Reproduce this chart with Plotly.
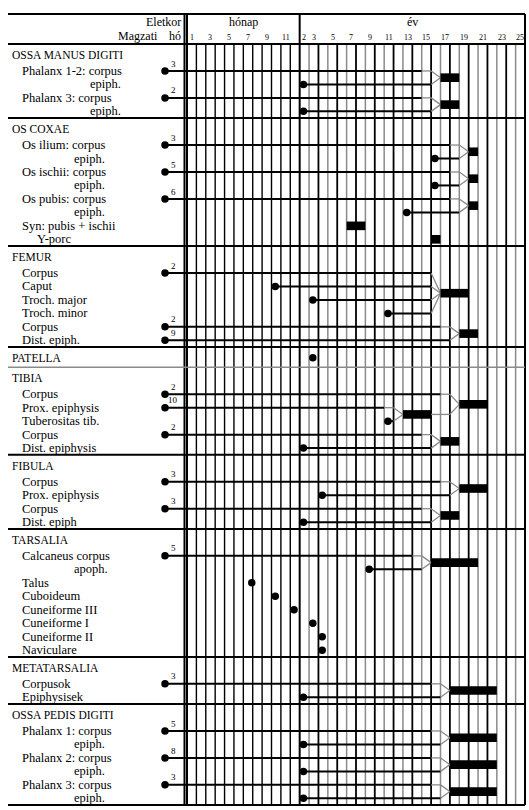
import plotly.graph_objects as go

# ---------------- data ----------------
SECTIONS = ["OSSA MANUS DIGITI", "OS COXAE", "FEMUR", "PATELLA", "TIBIA",
            "FIBULA", "TARSALIA", "METATARSALIA", "OSSA PEDIS DIGITI"]

ROW_LABELS = {
    "OSSA MANUS DIGITI": ["Phalanx 1-2: corpus", "epiph.", "Phalanx 3: corpus", "epiph."],
    "OS COXAE": ["Os ilium: corpus", "epiph.", "Os ischii: corpus", "epiph.",
                 "Os pubis: corpus", "epiph.", "Syn: pubis + ischii", "Y-porc"],
    "FEMUR": ["Corpus", "Caput", "Troch. major", "Troch. minor", "Corpus", "Dist. epiph."],
    "PATELLA": [],
    "TIBIA": ["Corpus", "Prox. epiphysis", "Tuberositas tib.", "Corpus", "Dist. epiphysis"],
    "FIBULA": ["Corpus", "Prox. epiphysis", "Corpus", "Dist. epiph"],
    "TARSALIA": ["Calcaneus corpus", "apoph.", "Talus", "Cuboideum", "Cuneiforme III",
                 "Cuneiforme I", "Cuneiforme II", "Naviculare"],
    "METATARSALIA": ["Corpusok", "Epiphysisek"],
    "OSSA PEDIS DIGITI": ["Phalanx 1: corpus", "epiph.", "Phalanx 2: corpus", "epiph.",
                          "Phalanx 3: corpus", "epiph."],
}

# onset of ossification: ("F", fetal month) / ("M", postnatal month) / ("Y", year) / None
ONSET = {
    "OSSA MANUS DIGITI": [("F", 3), ("Y", 2), ("F", 2), ("Y", 2)],
    "OS COXAE": [("F", 3), ("Y", 16), ("F", 5), ("Y", 16), ("F", 6), ("Y", 13), None, None],
    "FEMUR": [("F", 2), ("M", 10), ("Y", 3), ("Y", 11), ("F", 2), ("F", 9)],
    "PATELLA": [],
    "TIBIA": [("F", 2), ("F", 10), ("Y", 11), ("F", 2), ("Y", 2)],
    "FIBULA": [("F", 3), ("Y", 4), ("F", 3), ("Y", 2)],
    "TARSALIA": [("F", 5), ("Y", 9), ("M", 7.5), ("M", 10), ("M", 12), ("Y", 3), ("Y", 4), ("Y", 4)],
    "METATARSALIA": [("F", 3), ("Y", 2)],
    "OSSA PEDIS DIGITI": [("F", 5), ("Y", 2), ("F", 8), ("Y", 2), ("F", 3), ("Y", 2)],
}
PATELLA_ONSET = ("Y", 3)

# fusion periods in years (inclusive): id, section, members (row index or fusion id), first, last
FUSIONS = [
    ("md1", "OSSA MANUS DIGITI", [0, 1], 17, 18),
    ("md2", "OSSA MANUS DIGITI", [2, 3], 17, 18),
    ("cx1", "OS COXAE", [0, 1], 20, 20),
    ("cx2", "OS COXAE", [2, 3], 20, 20),
    ("cx3", "OS COXAE", [4, 5], 20, 20),
    ("cx4", "OS COXAE", [6], 7, 8),
    ("cx5", "OS COXAE", [7], 16, 16),
    ("fe1", "FEMUR", [0, 1, 2, 3], 17, 19),
    ("fe2", "FEMUR", [4, 5], 19, 20),
    ("tub", "TIBIA", [1, 2], 13, 15),
    ("ti1", "TIBIA", [0, "tub"], 19, 21),
    ("ti2", "TIBIA", [3, 4], 17, 18),
    ("fi1", "FIBULA", [0, 1], 19, 21),
    ("fi2", "FIBULA", [2, 3], 17, 18),
    ("ta1", "TARSALIA", [0, 1], 16, 20),
    ("mt1", "METATARSALIA", [0, 1], 18, 22),
    ("pd1", "OSSA PEDIS DIGITI", [0, 1], 18, 22),
    ("pd2", "OSSA PEDIS DIGITI", [2, 3], 18, 22),
    ("pd3", "OSSA PEDIS DIGITI", [4, 5], 18, 22),
]

MONTH_TICKS = [1, 3, 5, 7, 9, 11]
YEAR_TICKS = [2, 3, 5, 7, 9, 11, 13, 15, 17, 19, 21, 23, 25]
N_MONTHS = 12
FIRST_YEAR, LAST_YEAR = 2, 25

# ---------------- geometry (page pixels -> axis units) ----------------
W, H = 529, 810
GRID_X0_PX, GRID_X1_PX = 187, 525
N_COLS = N_MONTHS + (LAST_YEAR - FIRST_YEAR + 1)
CW = (GRID_X1_PX - GRID_X0_PX) / N_COLS
Y0_PX, U = 44, 13.47
HEAD = 1.5


def cx(px):
    return (px - GRID_X0_PX) / CW


def yv(px):
    return (px - Y0_PX) / U


FETAL_X = cx(165)
SERIF = "Liberation Serif, Times New Roman, serif"


def onset_x(o):
    kind, v = o
    if kind == "F":
        return FETAL_X
    if kind == "M":
        return v - 1 + 0.4
    return v - FIRST_YEAR + N_MONTHS + 0.4


def year_col(y):
    return y - FIRST_YEAR + N_MONTHS


# row positions
cursor = 0.0
sec_top, head_y, row_y = {}, {}, {}
for s in SECTIONS:
    sec_top[s] = cursor
    head_y[s] = cursor + 0.8
    for i, _ in enumerate(ROW_LABELS[s]):
        row_y[(s, i)] = cursor + HEAD + i + 0.5
    cursor += HEAD + len(ROW_LABELS[s])
bottom = cursor

shapes, annotations = [], []
BLACK, GRAY = "#000000", "#8a8a8a"


def line(x0, y0, x1, y1, color=BLACK, width=2):
    shapes.append(dict(type="line", xref="x", yref="y", x0=x0, y0=y0, x1=x1, y1=y1,
                       line=dict(color=color, width=width), layer="below"))


def text(x, y, t, size=12.5, anchor="left"):
    annotations.append(dict(x=x, y=y, xref="x", yref="y", text=t, showarrow=False,
                            xanchor=anchor, yanchor="middle",
                            font=dict(family=SERIF, size=size, color="black")))


# grid verticals
y_top = yv(14)
for c in range(N_COLS + 1):
    if c < N_MONTHS:
        col, wd = BLACK, 1.4
    else:
        col, wd = (BLACK, 1.8) if c % 2 == 0 else (GRAY, 1.5)
    ys = y_top if c in (0, N_MONTHS, N_COLS) else 0
    if c in (0, N_MONTHS, N_COLS):
        col, wd = BLACK, 2
    line(c, ys, c, bottom, col, wd)
line(cx(184.5), y_top, cx(184.5), bottom, BLACK, 2)

# horizontal rules
x_left = cx(8)
line(x_left, y_top, N_COLS, y_top)
line(x_left, 0, N_COLS, 0)
for s in SECTIONS[1:]:
    if s == "TIBIA":
        line(x_left, sec_top[s], N_COLS, sec_top[s], GRAY, 1.6)
    else:
        line(x_left, sec_top[s], N_COLS, sec_top[s])
line(x_left, bottom, N_COLS, bottom)

# header texts
text(cx(183), yv(22), "Eletkor", size=12, anchor="right")
text(cx(160), yv(36), "Magzati", size=12, anchor="right")
text(cx(183), yv(36), "hó", size=12, anchor="right")
text(N_MONTHS / 2, yv(22), "hónap", size=12, anchor="center")
text((N_MONTHS + N_COLS) / 2, yv(22), "év", size=12, anchor="center")
for m in MONTH_TICKS:
    text(m - 1 + 0.5, yv(37), str(m), size=8, anchor="center")
for y in YEAR_TICKS:
    text(year_col(y) + 0.5, yv(37), str(y), size=8, anchor="center")

# row labels
for s in SECTIONS:
    text(cx(10), head_y[s], s, size=11.5)
    for i, lab in enumerate(ROW_LABELS[s]):
        if lab in ("epiph.", "apoph."):
            px = 88 if s == "OSSA MANUS DIGITI" else 72
        elif lab == "Y-porc":
            px = 35
        else:
            px = 20
        text(cx(px), row_y[(s, i)], lab)

# dots
dot_x, dot_y = [], []
for s in SECTIONS:
    for i, o in enumerate(ONSET[s]):
        if o is None:
            continue
        dot_x.append(onset_x(o))
        dot_y.append(row_y[(s, i)])
        if o[0] == "F":
            text(cx(173), row_y[(s, i)] - 0.55, str(o[1]), size=9, anchor="center")
dot_x.append(onset_x(PATELLA_ONSET))
dot_y.append(head_y["PATELLA"])

# fusion bars and converging lines
bar_info = {}
for fid, s, members, y1, y2 in FUSIONS:
    S, E = year_col(y1), year_col(y2) + 1
    ys = [row_y[(s, m)] if isinstance(m, int) else bar_info[m][2] for m in members]
    ymid = (min(ys) + max(ys)) / 2
    bar_info[fid] = (S, E, ymid)
    if len(members) > 1:
        top = min(ys)
        for m, y in zip(members, ys):
            if isinstance(m, int):
                x0 = onset_x(ONSET[s][m])
                if len(members) == 2 and y == top:
                    line(x0, y, S - 2, y)
                    line(S - 2, y, S - 1, y, GRAY, 1.3)
                else:
                    line(x0, y, S - 1, y)
            else:
                line(bar_info[m][1], y, S - 1, y, GRAY, 1.3)
            line(S - 1, y, S, ymid, GRAY, 1.3)
    shapes.append(dict(type="rect", xref="x", yref="y", x0=S, x1=E,
                       y0=ymid - 0.32, y1=ymid + 0.32,
                       fillcolor="black", line=dict(width=0), layer="below"))

fig = go.Figure()
fig.add_trace(go.Scatter(x=dot_x, y=dot_y, mode="markers",
                         marker=dict(color="black", size=7.5), hoverinfo="skip"))
fig.update_layout(
    width=W, height=H, margin=dict(l=0, r=0, t=0, b=0),
    paper_bgcolor="white", plot_bgcolor="white", showlegend=False,
    xaxis=dict(range=[cx(0), cx(W)], visible=False, fixedrange=True),
    yaxis=dict(range=[yv(H), yv(0)], visible=False, fixedrange=True),
    shapes=shapes, annotations=annotations,
)
fig.write_html("out.html", config={"displayModeBar": False})
with open("out.html", encoding="utf-8") as f:
    html = f.read()
html = html.replace("<head>", "<head><style>html,body{margin:0;padding:0;overflow:hidden}</style>", 1)
with open("out.html", "w", encoding="utf-8") as f:
    f.write(html)
